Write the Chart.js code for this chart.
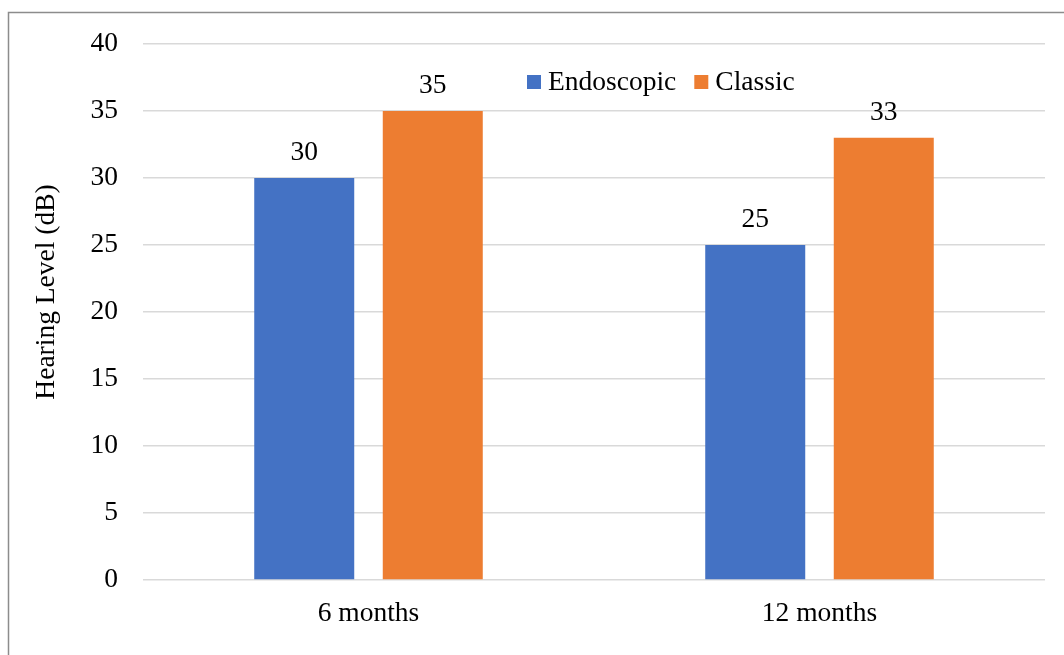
<!DOCTYPE html>
<html>
<head>
<meta charset="utf-8">
<script src="https://cdn.jsdelivr.net/npm/chart.js@4.4.1/dist/chart.umd.min.js"></script>
<style>
  html, body { margin: 0; padding: 0; background: #ffffff; }
  #wrap { width: 1064px; height: 655px; position: relative; }
</style>
</head>
<body>
<div id="wrap"><canvas id="chart" width="1064" height="655"></canvas></div>
<script>
// Hearing level after surgery, by follow-up period
const categories = ['6 months', '12 months'];
const endoscopic = [30, 25];
const classic = [35, 33];
const seriesNames = ['Endoscopic', 'Classic'];
const yTicks = [0, 5, 10, 15, 20, 25, 30, 35, 40];
const yTitle = 'Hearing Level (dB)';

const FONT = '"Liberation Serif", "Times New Roman", serif';
const FONT_SIZE = 27.5;
const BLUE = '#4472C4';
const ORANGE = '#ED7D31';

// Outer frame around the chart
const framePlugin = {
  id: 'frame',
  beforeDraw(chart) {
    const ctx = chart.ctx;
    ctx.save();
    ctx.fillStyle = '#ffffff';
    ctx.fillRect(0, 0, chart.width, chart.height);
    ctx.strokeStyle = '#8c8c8c';
    ctx.lineWidth = 1.5;
    ctx.strokeRect(8.5, 12.5, chart.width + 20, chart.height + 20);
    ctx.restore();
  }
};

// Vertical axis title, set slightly above the plot's midline
const axisTitle = {
  id: 'axisTitle',
  afterDraw(chart) {
    const ctx = chart.ctx;
    ctx.save();
    ctx.font = FONT_SIZE + 'px ' + FONT;
    ctx.fillStyle = '#000000';
    ctx.textAlign = 'center';
    ctx.textBaseline = 'middle';
    ctx.translate(47, 292);
    ctx.rotate(-Math.PI / 2);
    ctx.fillText(yTitle, 0, 0);
    ctx.restore();
  }
};

// Value labels above each bar
const valueLabels = {
  id: 'valueLabels',
  afterDatasetsDraw(chart) {
    const ctx = chart.ctx;
    ctx.save();
    ctx.font = FONT_SIZE + 'px ' + FONT;
    ctx.fillStyle = '#000000';
    ctx.textAlign = 'center';
    ctx.textBaseline = 'middle';
    chart.data.datasets.forEach((ds, i) => {
      chart.getDatasetMeta(i).data.forEach((bar, j) => {
        ctx.fillText(String(ds.data[j]), bar.x, bar.y - 25);
      });
    });
    ctx.restore();
  }
};

// Legend drawn inside the plot area, near the top
const innerLegend = {
  id: 'innerLegend',
  afterDraw(chart) {
    const ctx = chart.ctx;
    ctx.save();
    ctx.font = FONT_SIZE + 'px ' + FONT;
    ctx.textBaseline = 'middle';
    ctx.textAlign = 'left';
    const y = 83;
    const box = 14;
    let x = 527;
    chart.data.datasets.forEach((ds) => {
      ctx.fillStyle = ds.backgroundColor;
      ctx.fillRect(x, y - box / 2 - 1, box, box);
      ctx.fillStyle = '#000000';
      ctx.fillText(ds.label, x + box + 7, y);
      x += box + 7 + ctx.measureText(ds.label).width + 18;
    });
    ctx.restore();
  }
};

new Chart(document.getElementById('chart'), {
  type: 'bar',
  data: {
    labels: categories,
    datasets: [
      { label: seriesNames[0], data: endoscopic, backgroundColor: BLUE },
      { label: seriesNames[1], data: classic, backgroundColor: ORANGE }
    ]
  },
  options: {
    responsive: false,
    animation: false,
    devicePixelRatio: 1,
    layout: { padding: { top: 44, right: 19, bottom: 0, left: 0 } },
    datasets: {
      bar: { categoryPercentage: 0.57, barPercentage: 0.778 }
    },
    plugins: {
      legend: { display: false },
      tooltip: { enabled: false }
    },
    scales: {
      x: {
        grid: { display: false, drawTicks: false },
        border: { display: false },
        ticks: { color: '#000000', font: { family: FONT, size: FONT_SIZE }, padding: 17 },
        afterFit(scale) { scale.height = 75; }
      },
      y: {
        min: 0,
        max: 40,
        afterBuildTicks(scale) { scale.ticks = yTicks.map(v => ({ value: v })); },
        grid: { color: '#d9d9d9', lineWidth: 1.5, drawTicks: false },
        border: { display: false },
        ticks: { color: '#000000', font: { family: FONT, size: FONT_SIZE }, padding: 25 },
        title: { display: false },
        afterFit(scale) { scale.width = 143; }
      }
    }
  },
  plugins: [framePlugin, axisTitle, valueLabels, innerLegend]
});
</script>
</body>
</html>
